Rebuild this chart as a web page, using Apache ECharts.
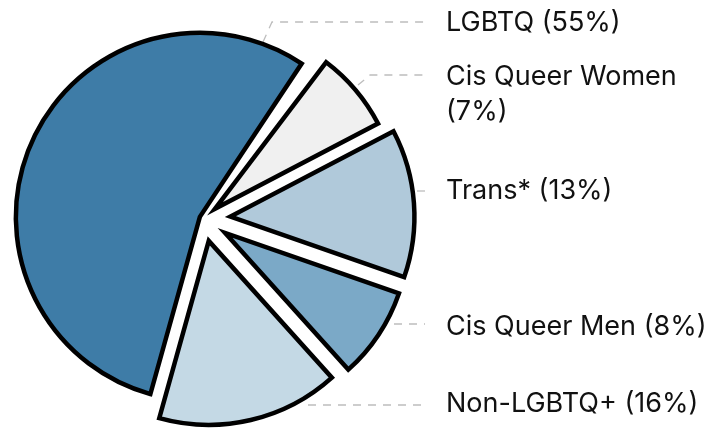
<!DOCTYPE html>
<html><head><meta charset="utf-8">
<script src="https://cdn.jsdelivr.net/npm/echarts@6/dist/echarts.min.js"></script>
<style>html,body{margin:0;padding:0;background:#fff}#c{width:721px;height:429px}</style>
</head><body><div id="c"></div>
<script>
// ---- data ----
const categories = ['LGBTQ', 'Cis Queer Women', 'Trans*', 'Cis Queer Men', 'Non-LGBTQ+'];
const shares = [55, 7, 13, 8, 16];            // percent, as labelled (sum 99)
const wrapBeforeValue = [false, true, false, false, false];

// ---- styling / layout ----
const sliceColors = ['#3e7ca7', '#f0f0f0', '#b0c9da', '#7ba9c7', '#c4d9e5'];
const explodeOffsets = [4, 15, 27, 26, 23];
const PIE_CENTER = [203.5, 218.5];
const PIE_RADIUS = 184;
const START_ANGLE = 254.4;
const LABEL_X = 446, LINE_END_X = 425;
const labelY = [23, 94.5, 191, 327, 404];
const lineY = [22, 75, 191, 324, 405];
const lineStart = [[263, 42], [358, 85], [417, 191], [394, 324], [308, 405]];
const lineElbowX = [272, 370, 417, 394, 308];

// unlabelled remainder of the 100% sits between the first and second slice
const remainder = 100 - shares.reduce((a, b) => a + b, 0);
const slots = [0, -1, 1, 2, 3, 4];   // -1 = remainder slot
const slotValue = s => (s < 0 ? remainder : shares[s]);
const slotName = s => (s < 0 ? '' : categories[s]);
const BLANK = { color: 'rgba(0,0,0,0)', borderWidth: 0 };

function baseSeries() {
  return {
    type: 'pie',
    center: PIE_CENTER,
    radius: PIE_RADIUS,
    startAngle: START_ANGLE,
    clockwise: true,
    animation: false,
    silent: true,
    avoidLabelOverlap: false,
    emphasis: { disabled: true },
    percentPrecision: 0
  };
}

// one series per slice so each can carry its own explode offset
function sliceSeries(k) {
  return Object.assign(baseSeries(), {
    selectedMode: 'multiple',
    selectedOffset: explodeOffsets[k],
    label: { show: false },
    labelLine: { show: false },
    data: slots.map(s => {
      const mine = s === k;
      const st = mine
        ? { color: sliceColors[s], borderColor: '#000', borderWidth: 4.5, borderJoin: 'miter', borderMiterLimit: 20 }
        : BLANK;
      return { name: slotName(s), value: slotValue(s), selected: mine, itemStyle: st, select: { itemStyle: st } };
    })
  });
}

// label-only series (no offset) carrying the texts and leader lines
const labelSeries = Object.assign(baseSeries(), {
  label: {
    show: true, position: 'outside',
    fontFamily: 'Inter', fontSize: 27, color: '#111', lineHeight: 35,
    formatter: p => {
      const s = slots[p.dataIndex];
      return categories[s] + (wrapBeforeValue[s] ? '\n' : ' ') + '(' + shares[s] + '%)';
    }
  },
  labelLine: { show: true, lineStyle: { color: '#bdbdbd', width: 1.3, type: [8, 7] } },
  labelLayout: p => {
    const s = slots[p.dataIndex];
    if (s < 0) return {};
    return {
      x: LABEL_X, y: labelY[s], align: 'left', verticalAlign: 'middle',
      labelLinePoints: [lineStart[s], [lineElbowX[s], lineY[s]], [LINE_END_X, lineY[s]]]
    };
  },
  data: slots.map(s => ({
    name: slotName(s), value: slotValue(s), itemStyle: BLANK,
    label: { show: s >= 0 }, labelLine: { show: s >= 0 }
  }))
});

const chart = echarts.init(document.getElementById('c'), null, { renderer: 'canvas' });
chart.setOption({
  animation: false,
  backgroundColor: '#fff',
  series: categories.map((_, k) => sliceSeries(k)).concat([labelSeries])
});
</script>
</body></html>
